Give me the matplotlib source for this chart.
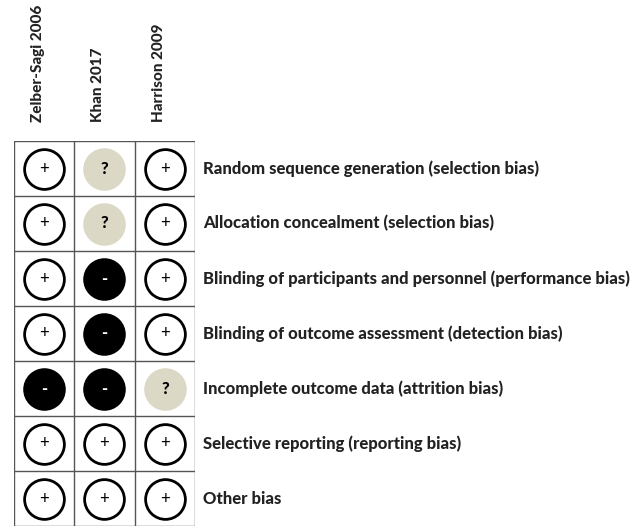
import matplotlib
matplotlib.use("Agg")

import matplotlib.pyplot as plt

studies = ["Zelber-Sagi 2006", "Khan 2017", "Harrison 2009"]
domains = [
    "Random sequence generation (selection bias)",
    "Allocation concealment (selection bias)",
    "Blinding of participants and personnel (performance bias)",
    "Blinding of outcome assessment (detection bias)",
    "Incomplete outcome data (attrition bias)",
    "Selective reporting (reporting bias)",
    "Other bias",
]
# one list per study, one judgement per domain: "+" low, "?" unclear, "-" high
zelber = ["+", "+", "+", "+", "-", "+", "+"]
khan = ["?", "?", "-", "-", "-", "+", "+"]
harrison = ["+", "+", "+", "+", "?", "+", "+"]

plt.rcParams["font.family"] = ["Lato", "DejaVu Sans"]

W, H, DPI = 643, 528, 100
fig = plt.figure(figsize=(W / DPI, H / DPI), dpi=DPI)
ax = fig.add_axes([14 / W, 2 / H, (195 - 14) / W, (527 - 142) / H])
ax.set_xlim(0, 3)
ax.set_ylim(len(domains), 0)
ax.axis("off")

for i in range(4):
    ax.axvline(i, color="#555555", lw=1.0)
for j in range(len(domains) + 1):
    ax.axhline(j, color="#555555", lw=1.0)

styles = {
    "+": dict(face="white", edge="black", txt="black", w="normal"),
    "?": dict(face="#dcd8c6", edge="#dcd8c6", txt="black", w="black"),
    "-": dict(face="black", edge="black", txt="white", w="black"),
}

for i, col in enumerate([zelber, khan, harrison]):
    for j, val in enumerate(col):
        st = styles[val]
        ax.scatter(i + 0.5, j + 0.5, s=820, facecolor=st["face"],
                   edgecolor=st["edge"], linewidth=2.0, zorder=3)
        ax.text(i + 0.5, j + 0.5, val, ha="center", va="center",
                fontsize=12, fontweight=st["w"], color=st["txt"], zorder=4)

for i, s in enumerate(studies):
    ax.text(i + 0.4, -0.35, s, rotation=90, ha="center", va="bottom",
            fontsize=11, fontweight="black", color="#222222", clip_on=False)

for j, d in enumerate(domains):
    ax.text(3.13, j + 0.5, d, ha="left", va="center", fontsize=12,
            fontweight="black", color="#222222", clip_on=False)

fig.savefig("out.png", dpi=DPI)
plt.close(fig)
